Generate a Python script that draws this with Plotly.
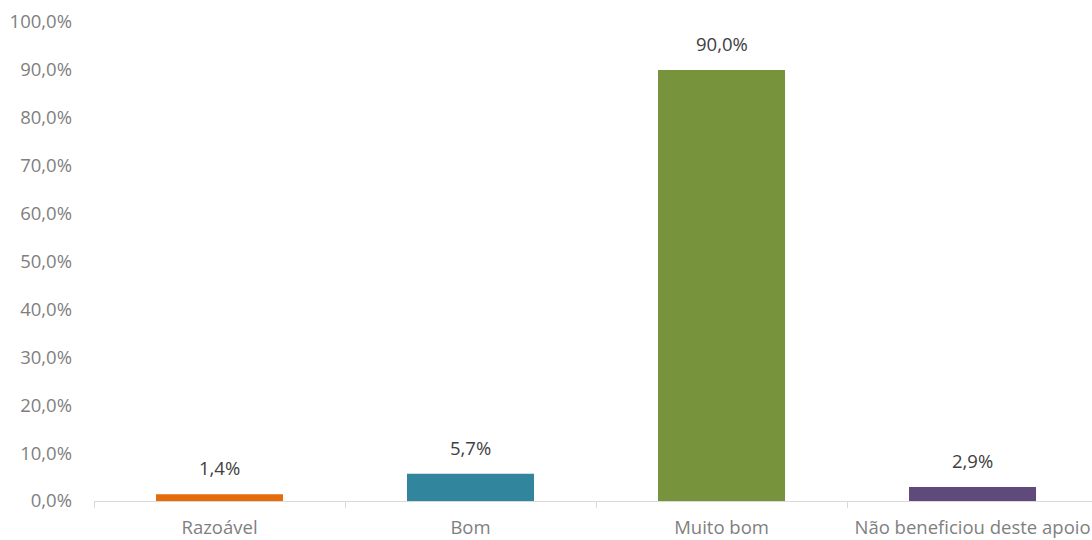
import plotly.graph_objects as go

# Survey responses and their share (%)
categories = ["Razoável", "Bom", "Muito bom", "Não beneficiou deste apoio"]
values = [1.4, 5.7, 90.0, 2.9]
colors = ["#E46C0A", "#31859C", "#77933C", "#604A7B"]
y_ticks = [0, 10, 20, 30, 40, 50, 60, 70, 80, 90, 100]

FONT = "Open Sans"
SIZE = 18.5

fig = go.Figure(
    go.Bar(
        x=categories,
        y=values,
        marker=dict(color=colors, line=dict(width=0)),
        width=0.506,
        hoverinfo="skip",
    )
)

# Value labels above each bar
for cat, val in zip(categories, values):
    fig.add_annotation(
        x=cat, y=val, yref="y",
        text=f"{val:.1f}%".replace(".", ","),
        showarrow=False, yanchor="bottom", yshift=12,
        font=dict(family=FONT, size=SIZE, color="#404040"),
    )

fig.update_layout(
    width=1092, height=540,
    margin=dict(l=94, r=0, t=22, b=39),
    paper_bgcolor="white", plot_bgcolor="white",
    showlegend=False,
    font=dict(family=FONT, size=SIZE, color="#7F7F7F"),
)
fig.update_xaxes(
    range=[-0.5, 3.476],
    showline=True, linecolor="#D9D9D9", linewidth=1.3,
    ticks="outside", tickson="boundaries", ticklen=6, tickcolor="#D9D9D9",
    ticklabelstandoff=10,
    showgrid=False, tickfont=dict(family=FONT, size=SIZE, color="#7F7F7F"),
)
fig.update_yaxes(
    range=[0, 100], tickvals=y_ticks,
    ticktext=[f"{v:.1f}%".replace(".", ",") for v in y_ticks],
    showgrid=False, zeroline=False, showline=False, ticks="",
    ticklabelstandoff=21,
    tickfont=dict(family=FONT, size=SIZE, color="#7F7F7F"),
)

fig.write_html("out.html")
